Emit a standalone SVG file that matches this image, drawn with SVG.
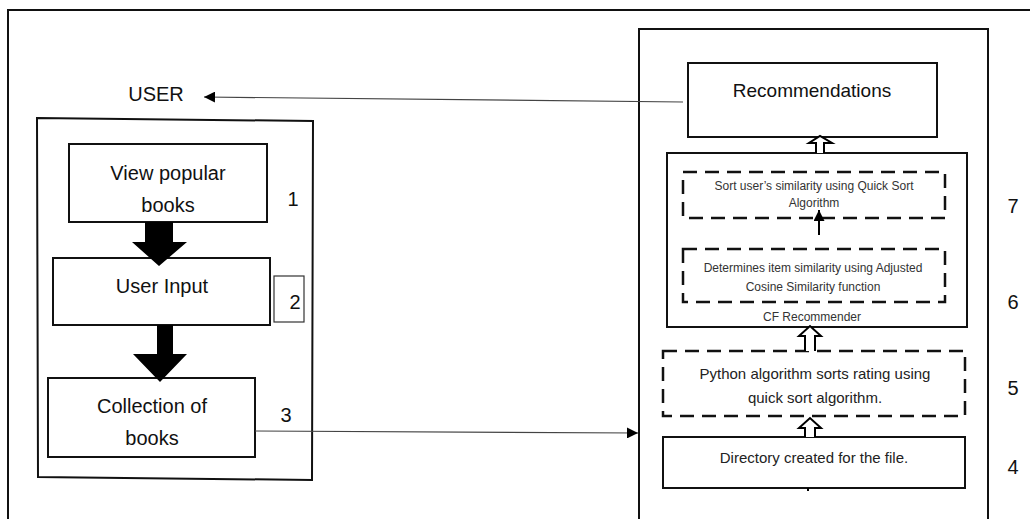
<svg xmlns="http://www.w3.org/2000/svg" width="1030" height="519" viewBox="0 0 1030 519">
<style>
  .box { fill: #fff; stroke: #111; stroke-width: 2; }
  .dash { fill: none; stroke: #111; stroke-width: 2.5; stroke-dasharray: 14 8; }
  .t { font-family: "Liberation Sans", Arial, sans-serif; fill: #111; text-anchor: middle; }
  .big { font-size: 20px; }
  .mid { font-size: 15px; fill: #222; }
  .sm { font-size: 12px; fill: #333; }
  .conn { stroke: #444; stroke-width: 1.2; fill: none; }
  .thick { fill: #000; stroke: none; }
  .hollow { fill: #fff; stroke: #000; stroke-width: 2; stroke-linejoin: miter; }
</style>
<defs>
  <marker id="tri" viewBox="0 0 10 10" refX="10" refY="5" markerWidth="11" markerHeight="11" markerUnits="userSpaceOnUse" orient="auto">
    <path d="M0,0 L10,5 L0,10 Z" fill="#000"/>
  </marker>
</defs>
<rect width="1030" height="519" fill="#fff"/>
<g id="frame">
  <path d="M8,519 V10 H1030" fill="none" stroke="#111" stroke-width="2"/>
</g>
<g id="user">
  <text class="t big" x="156" y="101">USER</text>
</g>
<g id="left-panel">
  <path d="M37,118 L313,121 L312,480 L38,477 Z" fill="none" stroke="#111" stroke-width="2"/>
</g>
<g id="node-view">
  <rect class="box" x="69" y="144" width="198" height="78"/>
  <text class="t big" x="168" y="180">View popular</text>
  <text class="t big" x="168" y="212">books</text>
  <text class="t big" x="293" y="206">1</text>
</g>
<g id="node-input">
  <rect class="box" x="53" y="258" width="217" height="67"/>
  <text class="t big" x="162" y="293">User Input</text>
  <rect x="274" y="276" width="30" height="46" fill="#fff" stroke="#333" stroke-width="1.2"/>
  <text class="t big" x="295" y="309">2</text>
</g>
<g id="node-collection">
  <rect class="box" x="48" y="378" width="207" height="79"/>
  <text class="t big" x="152" y="413">Collection of</text>
  <text class="t big" x="152" y="445">books</text>
  <text class="t big" x="286" y="422">3</text>
</g>
<g id="right-panel">
  <path d="M639,519 V29 H988 V519" fill="none" stroke="#111" stroke-width="2"/>
</g>
<g id="node-recommendations">
  <rect class="box" x="688" y="63" width="249" height="74"/>
  <text class="t" style="font-size:19px" x="812" y="97">Recommendations</text>
</g>
<g id="node-cf">
  <rect class="box" x="667" y="153" width="300" height="174"/>
  <text class="t sm" x="812" y="321">CF Recommender</text>
</g>
<g id="node-sort">
  <rect class="dash" x="683" y="172" width="262" height="46"/>
  <text class="t sm" x="814" y="190">Sort user’s similarity  using Quick Sort</text>
  <text class="t sm" x="814" y="207">Algorithm</text>
  <text class="t big" x="1013" y="213">7</text>
</g>
<g id="node-similarity">
  <rect class="dash" x="683" y="249" width="262" height="53"/>
  <text class="t sm" x="813" y="272">Determines  item  similarity  using  Adjusted</text>
  <text class="t sm" x="813" y="291">Cosine  Similarity  function</text>
  <text class="t big" x="1013" y="309">6</text>
</g>
<g id="node-python">
  <rect class="dash" x="663" y="351" width="302" height="65"/>
  <text class="t mid" x="815" y="379">Python algorithm sorts rating using</text>
  <text class="t mid" x="815" y="403">quick sort algorithm.</text>
  <text class="t big" x="1013" y="395">5</text>
</g>
<g id="node-directory">
  <rect class="box" x="663" y="437" width="302" height="51"/>
  <text class="t mid" x="814" y="463">Directory created for the file.</text>
  <text class="t big" x="1013" y="474">4</text>
</g>
<g id="connectors">
  <path class="thick" d="M145,222 H173 V242 H187 L159,266 L132,242 H145 Z"/>
  <path class="thick" d="M157,325 H173 V354 H187 L160,382 L133,354 H157 Z"/>
  <path class="conn" d="M683,102 L204,97" marker-end="url(#tri)"/>
  <path class="conn" d="M255,431 L638,433" marker-end="url(#tri)"/>
  <path class="hollow" d="M816,153 V143 H809 L820,136 L832,143 H824 V153"/>
  <path d="M819,235 V210" stroke="#000" stroke-width="2" marker-end="url(#tri)"/>
  <path class="hollow" d="M805,351 V336 H799 L810,326 L821,336 H815 V351"/>
  <path class="hollow" d="M805,437 V428 H799 L810,418 L821,428 H815 V437"/>
  <path d="M808,488 V491" stroke="#000" stroke-width="2"/>
</g>
</svg>
